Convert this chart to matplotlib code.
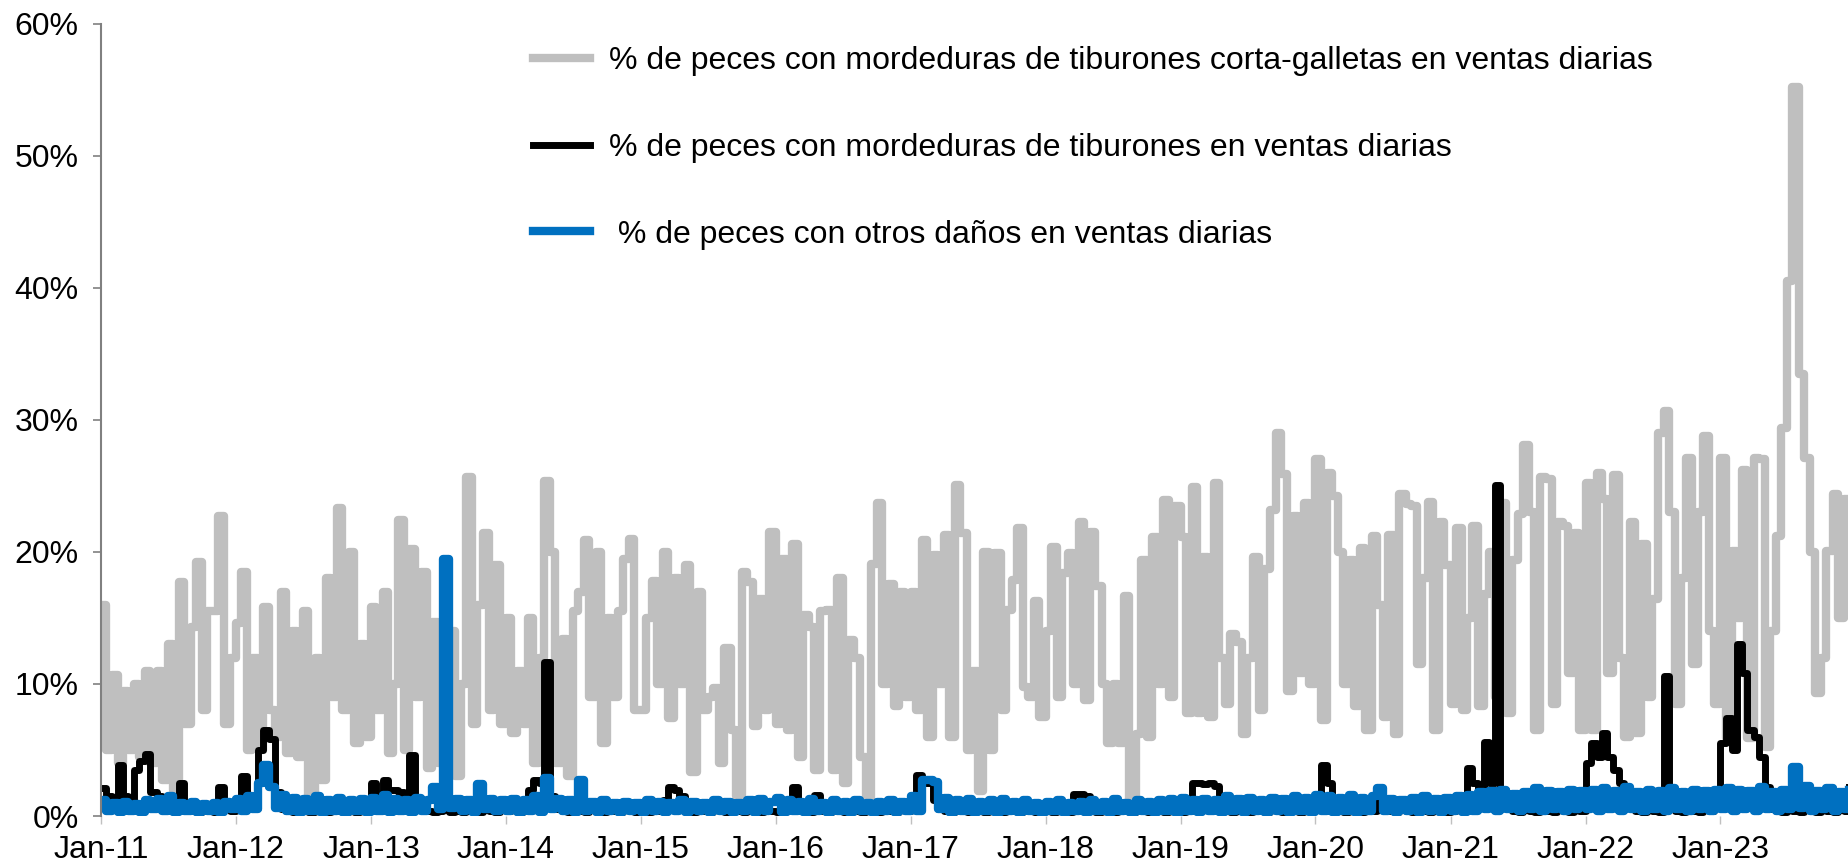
import matplotlib
matplotlib.use('Agg')
import matplotlib.pyplot as plt
import matplotlib.dates as mdates
import matplotlib.ticker as mticker
import pandas as pd

# Semi-monthly readings (1st and 15th of each month), % of fish in daily sales
gray_2011 = [16, 5, 10.7, 4, 9.5, 5, 10, 4.5, 11, 4, 11, 2.7, 13, 2, 17.7, 7, 14.3, 19.2, 8, 15.5, 15.5, 22.7, 7, 12]
gray_2012 = [14.6, 18.5, 5, 12, 5, 15.8, 8, 6, 17, 4.8, 14, 4.5, 15.5, 1.4, 12, 2.7, 18, 9, 23.3, 8, 20, 5.5, 13, 6]
gray_2013 = [15.8, 8, 17, 4.8, 10, 22.4, 5, 20.2, 9, 18.5, 3.6, 14.7, 4, 4.5, 14, 3, 10, 25.7, 7, 16, 21.4, 8, 19, 7]
gray_2014 = [15, 6.3, 11, 7, 15, 4, 12, 25.4, 20, 4, 13.4, 3, 15.5, 17, 20.9, 9, 20, 5.5, 15, 9, 15.5, 19.5, 21, 8]
gray_2015 = [8, 15, 17.8, 10, 20, 7.4, 18, 10, 19, 3.3, 17, 8, 9, 9.7, 4, 12.7, 6.5, 1.5, 18.5, 17.7, 6.8, 16.4, 8, 21.5]
gray_2016 = [7, 19.5, 6.5, 20.6, 4.5, 15.2, 14.3, 3.5, 15.5, 15.6, 3.5, 18, 2.5, 13.3, 12, 4.5, 1.4, 19.1, 23.7, 10, 17.6, 8.3, 17, 9]
gray_2017 = [17, 8, 20.9, 6, 19.8, 10, 21.3, 6, 25.1, 21.4, 5, 11, 1.9, 20, 5, 19.9, 8, 15.6, 17.9, 21.8, 9.8, 9, 16.3, 7.5]
gray_2018 = [14, 20.4, 9, 18.4, 19.9, 10, 22.3, 8.8, 21.5, 17.4, 10, 5.5, 10, 5.5, 16.7, 1.2, 6.2, 19.4, 6, 21.1, 10, 23.9, 9, 23.5]
gray_2019 = [21.1, 7.8, 24.9, 7.8, 19.6, 7.5, 25.2, 12, 8.5, 13.8, 13.2, 6.2, 12, 19.6, 8, 18.7, 23.2, 29, 25.9, 9.5, 22.7, 10.8, 23.7, 10]
gray_2020 = [27, 7.3, 26, 24.2, 20, 10, 19.4, 8.3, 20.3, 6.5, 21.2, 16, 7.5, 21.3, 6.2, 24.4, 23.6, 23.5, 11.5, 18, 23.8, 6.5, 22.3, 19]
gray_2021 = [8.5, 21.8, 8, 15, 22, 8.3, 16.8, 20, 9, 23.7, 7.8, 19.4, 22.9, 28.1, 23, 6.5, 25.7, 25.5, 8.5, 22.3, 22, 10.8, 21.4, 6.5]
gray_2022 = [25.2, 6.5, 26, 24, 10.8, 25.8, 12, 6, 22.3, 6.3, 20.6, 9, 16.4, 29, 30.7, 23, 8.5, 18, 27.1, 11.5, 23, 28.8, 14, 8.5]
gray_2023 = [27.1, 5.9, 20.1, 15, 26.2, 5.9, 27.1, 27, 5.2, 14, 21.2, 29.4, 40.5, 55.2, 33.5, 27.1, 20, 9.3, 12, 20.1, 24.4, 15, 24, 18]

black_2011 = [2.1, 1.5, 1.2, 3.9, 1.5, 1.2, 3.5, 4.2, 4.7, 1.8, 1.5, 0.8, 0.5, 0.4, 2.5, 0.5, 0.4, 0.3, 0.5, 0.4, 0.3, 2.2, 0.5, 0.4]
black_2012 = [0.5, 3.0, 0.5, 0.6, 5.0, 6.5, 5.8, 1.8, 0.5, 0.4, 0.3, 0.5, 0.4, 0.3, 0.4, 0.5, 0.3, 0.4, 0.5, 0.3, 0.4, 0.3, 0.5, 0.4]
black_2013 = [2.5, 1.0, 2.7, 2.0, 2.0, 1.8, 1.6, 4.6, 1.2, 0.5, 0.4, 0.3, 0.4, 0.5, 0.3, 0.4, 0.3, 0.5, 0.4, 0.3, 0.5, 0.4, 0.3, 0.5]
black_2014 = [0.4, 0.5, 0.3, 0.5, 2.0, 2.7, 2.5, 11.7, 1.5, 0.5, 0.4, 0.3, 0.5, 0.4, 0.3, 0.5, 0.4, 0.3, 0.5, 0.4, 0.3, 0.5, 0.4, 0.3]
black_2015 = [0.4, 0.3, 0.5, 0.4, 1.2, 2.2, 2.0, 1.5, 0.4, 0.3, 0.5, 0.4, 0.3, 0.5, 0.4, 0.3, 0.5, 0.4, 0.3, 0.5, 0.4, 0.3, 0.5, 0.4]
black_2016 = [0.3, 0.5, 0.4, 2.2, 0.5, 0.4, 0.3, 1.6, 0.4, 0.3, 0.5, 0.4, 0.3, 0.5, 0.4, 0.3, 0.5, 0.4, 0.3, 0.5, 0.4, 0.3, 0.5, 0.4]
black_2017 = [0.5, 3.1, 2.5, 2.5, 1.2, 0.5, 0.4, 0.3, 0.5, 0.4, 0.3, 0.5, 0.4, 0.3, 0.5, 0.4, 0.3, 0.5, 0.4, 0.3, 0.5, 0.4, 0.3, 0.5]
black_2018 = [0.4, 0.3, 0.5, 0.4, 0.3, 1.7, 1.7, 1.5, 0.4, 0.3, 0.5, 0.4, 0.3, 0.5, 0.4, 0.3, 0.5, 0.4, 0.3, 0.5, 0.4, 0.3, 0.5, 0.4]
black_2019 = [0.3, 0.5, 2.5, 2.5, 2.4, 2.5, 2.3, 0.5, 0.4, 0.3, 0.5, 0.4, 0.3, 0.5, 0.4, 0.3, 0.5, 0.4, 0.3, 0.5, 0.4, 0.3, 0.5, 0.4]
black_2020 = [0.5, 3.9, 2.5, 0.5, 0.4, 0.3, 0.5, 0.4, 0.3, 0.5, 0.4, 1.8, 0.5, 0.4, 0.3, 0.5, 0.4, 0.3, 0.5, 0.4, 0.3, 0.5, 0.4, 0.3]
black_2021 = [0.4, 0.5, 0.6, 3.6, 2.5, 1.5, 5.6, 2.5, 25.1, 2.0, 0.5, 0.4, 0.3, 0.5, 0.4, 0.3, 0.5, 0.4, 0.3, 0.5, 0.4, 0.3, 0.5, 0.4]
black_2022 = [4.0, 5.5, 4.5, 6.3, 4.5, 3.5, 2.5, 1.5, 0.5, 0.4, 0.3, 0.5, 0.4, 0.3, 10.6, 0.5, 0.4, 0.3, 0.5, 0.4, 0.3, 1.9, 0.4, 1.5]
black_2023 = [5.5, 7.4, 5.0, 13.0, 10.8, 6.5, 6.0, 4.5, 2.2, 0.5, 0.4, 0.3, 0.5, 0.4, 0.3, 0.5, 0.4, 0.3, 0.5, 0.4, 0.3, 0.5, 0.4, 2.2]

blue_2011 = [1.2, 0.4, 1.0, 0.3, 1.1, 0.4, 0.9, 0.3, 1.2, 0.5, 1.3, 0.4, 1.5, 0.3, 1.0, 0.4, 1.1, 0.3, 0.9, 0.4, 1.0, 0.3, 1.1, 0.5]
blue_2012 = [1.3, 0.4, 1.5, 0.5, 2.5, 3.9, 2.2, 0.6, 1.6, 0.4, 1.4, 0.3, 1.3, 0.4, 1.5, 0.3, 1.2, 0.4, 1.4, 0.3, 1.2, 0.4, 1.3, 0.3]
blue_2013 = [1.4, 0.4, 1.6, 0.3, 1.3, 0.4, 1.2, 0.3, 1.4, 0.4, 1.2, 2.2, 0.5, 19.5, 0.6, 1.3, 0.4, 1.2, 0.3, 2.4, 0.5, 1.3, 0.4, 1.2]
blue_2014 = [0.4, 1.3, 0.3, 1.2, 0.4, 1.5, 0.3, 2.9, 0.5, 1.3, 0.4, 1.2, 0.3, 2.7, 0.4, 1.1, 0.3, 1.2, 0.4, 1.0, 0.3, 1.1, 0.4, 1.0]
blue_2015 = [0.3, 1.2, 0.4, 1.1, 0.3, 1.0, 0.4, 1.2, 0.3, 1.1, 0.4, 1.0, 0.3, 1.2, 0.4, 1.1, 0.3, 1.0, 0.4, 1.2, 0.3, 1.3, 0.4, 1.1]
blue_2016 = [1.4, 0.3, 1.2, 0.4, 1.1, 0.3, 1.3, 0.4, 1.0, 0.3, 1.2, 0.4, 1.1, 0.3, 1.2, 0.4, 1.0, 0.3, 1.1, 0.4, 1.2, 0.3, 1.1, 0.4]
blue_2017 = [1.5, 0.4, 2.7, 2.7, 2.6, 0.5, 1.4, 0.3, 1.2, 0.4, 1.3, 0.3, 1.1, 0.4, 1.2, 0.3, 1.3, 0.4, 1.1, 0.3, 1.2, 0.4, 1.0, 0.3]
blue_2018 = [1.1, 0.4, 1.2, 0.3, 1.0, 0.4, 1.1, 0.3, 1.2, 0.4, 1.1, 0.3, 1.3, 0.4, 1.0, 0.3, 1.2, 0.4, 1.1, 0.3, 1.2, 0.4, 1.3, 0.3]
blue_2019 = [1.4, 0.4, 1.2, 0.3, 1.3, 0.4, 1.2, 0.3, 1.5, 0.4, 1.3, 0.3, 1.4, 0.4, 1.2, 0.3, 1.4, 0.4, 1.3, 0.3, 1.5, 0.4, 1.4, 0.3]
blue_2020 = [1.6, 0.4, 1.5, 0.3, 1.4, 0.4, 1.6, 0.3, 1.4, 0.4, 1.5, 2.1, 0.4, 1.3, 0.3, 1.2, 0.4, 1.4, 0.3, 1.5, 0.4, 1.3, 0.3, 1.4]
blue_2021 = [0.4, 1.5, 0.3, 1.6, 0.4, 1.8, 0.5, 1.9, 0.4, 2.0, 0.5, 1.7, 0.4, 1.8, 0.5, 2.1, 0.4, 1.9, 0.5, 1.8, 0.4, 2.0, 0.5, 1.9]
blue_2022 = [0.5, 2.0, 0.4, 2.1, 0.5, 1.9, 0.4, 2.2, 0.5, 1.8, 0.4, 2.0, 0.5, 1.9, 0.4, 2.1, 0.5, 1.8, 0.4, 2.0, 0.5, 1.9, 0.4, 2.0]
blue_2023 = [0.5, 2.1, 0.4, 2.0, 0.5, 1.9, 0.4, 2.2, 0.5, 1.8, 0.4, 2.0, 0.5, 3.7, 0.6, 2.3, 0.4, 1.9, 0.5, 2.1, 0.4, 1.8, 0.5, 2.0]

labels = [
    "% de peces con mordeduras de tiburones corta-galletas en ventas diarias",
    "% de peces con mordeduras de tiburones en ventas diarias",
    " % de peces con otros daños en ventas diarias",
]

gray = (gray_2011 + gray_2012 + gray_2013 + gray_2014 + gray_2015 + gray_2016 + gray_2017
        + gray_2018 + gray_2019 + gray_2020 + gray_2021 + gray_2022 + gray_2023)
black = (black_2011 + black_2012 + black_2013 + black_2014 + black_2015 + black_2016 + black_2017
         + black_2018 + black_2019 + black_2020 + black_2021 + black_2022 + black_2023)
blue = (blue_2011 + blue_2012 + blue_2013 + blue_2014 + blue_2015 + blue_2016 + blue_2017
        + blue_2018 + blue_2019 + blue_2020 + blue_2021 + blue_2022 + blue_2023)

dates = pd.date_range("2011-01-01", "2023-12-15", freq="SMS")

plt.rcParams['font.family'] = ['Liberation Sans', 'DejaVu Sans']

fig = plt.figure(figsize=(18.49, 8.66), dpi=100)
ax = fig.add_axes([0.0546, 0.0577, 0.9454, 0.9149])

# Draw order: gray at the back, blue on top; each value holds for its half month
ax.plot(dates, gray, color="#bfbfbf", lw=6.0, drawstyle="steps-post", label=labels[0])
ax.plot(dates, black, color="#000000", lw=5.0, drawstyle="steps-post", label=labels[1])
ax.plot(dates, blue, color="#0070c0", lw=6.0, drawstyle="steps-post", label=labels[2])

ax.set_ylim(0, 60)
ax.set_xlim(pd.Timestamp("2011-01-01"), pd.Timestamp("2023-12-15"))
ax.yaxis.set_major_locator(mticker.MultipleLocator(10))
ax.yaxis.set_major_formatter(mticker.PercentFormatter(decimals=0))
ax.xaxis.set_major_locator(mdates.YearLocator())
ax.xaxis.set_major_formatter(mdates.DateFormatter("%b-%y"))

# Axis styling
for side in ["top", "right", "bottom"]:
    ax.spines[side].set_visible(False)
ax.spines["left"].set_color("#808080")
ax.spines["left"].set_linewidth(1.5)
ax.tick_params(axis="y", length=6, width=1.2, color="#808080", labelsize=23, pad=10)
ax.tick_params(axis="x", length=6, width=1, color="#c0c0c0", labelsize=23, pad=8)

ax.legend(loc="upper left", bbox_to_anchor=(0.288, 0.947), bbox_transform=fig.transFigure,
          frameon=False, fontsize=23, handlelength=1.8, handletextpad=0.6,
          labelspacing=1.78, borderpad=0, borderaxespad=0)

plt.savefig("out.png", dpi=100)
